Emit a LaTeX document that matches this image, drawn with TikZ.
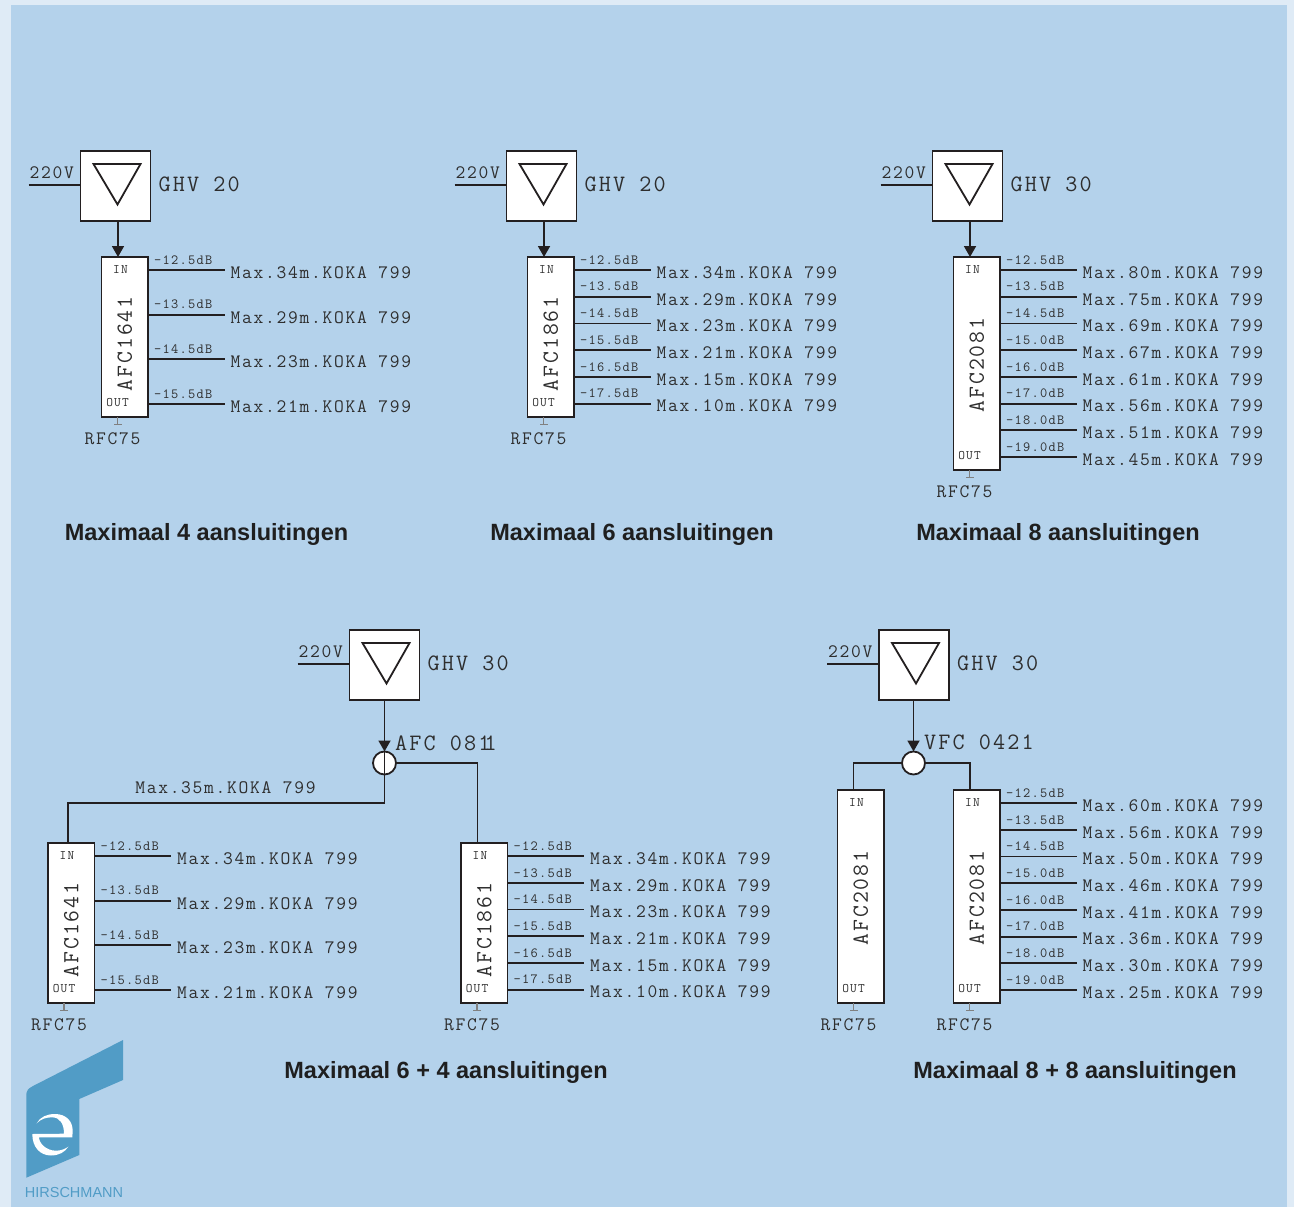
\documentclass[tikz,border=0pt]{standalone}
\usepackage{fontspec}
\setmonofont[LetterSpace=9]{Latin Modern Mono}
\newfontfamily\titlefont{Liberation Sans}
\usetikzlibrary{arrows.meta,positioning,calc}
\definecolor{pagepale}{HTML}{DFEBF6}
\definecolor{panelblue}{HTML}{B4D2EB}
\definecolor{logoblue}{HTML}{519CC6}
\definecolor{inkgrey}{HTML}{2E2E2E}
\definecolor{wireblack}{HTML}{231F20}
\tikzset{
  wire/.style={draw=wireblack,line width=1.8pt},
  feed/.style={wire,-{Triangle[width=12pt,length=11pt]}},
  stub/.style={draw=gray,line width=1.2pt,-{Bar[width=8pt]}},
  ampbox/.style={draw=wireblack,line width=1.8pt,fill=white,minimum size=70pt,inner sep=0pt,outer sep=0pt},
  splitbox/.style={draw=wireblack,line width=1.8pt,fill=white,minimum width=46.5pt,inner sep=0pt,outer sep=0pt,anchor=north west},
  knot/.style={circle,draw=wireblack,line width=1.8pt,fill=white,minimum size=23pt,inner sep=0pt,outer sep=0pt},
  txt/.style={inner sep=0pt,text=inkgrey},
  maxlabel/.style={txt,font=\fontsize{19}{22}\selectfont\ttfamily},
  typelabel/.style={txt,font=\fontsize{23.5}{26}\selectfont\ttfamily},
  afclabel/.style={txt,font=\fontsize{23}{26}\selectfont\ttfamily},
  dblabel/.style={txt,font=\fontsize{14}{16}\selectfont\ttfamily},
  portlabel/.style={txt,font=\fontsize{13}{15}\selectfont\ttfamily},
  titlelabel/.style={inner sep=0pt,text=black!88,font=\fontsize{23.5}{27}\selectfont\titlefont\bfseries}
}
% amp: name, x, y of the centre, type
\newcommand{\ampblock}[4]{
  \node[ampbox] (#1) at (#2,#3) {};
  \draw[wire] ([shift={(-22,-22)}]#1.center) -- ([shift={(25,-22)}]#1.center) -- ([shift={(2,18.5)}]#1.center) -- cycle;
  \coordinate (#1in) at ([shift={(-52,-1)}]#1.west);
  \draw[wire] (#1in) -- (#1in -| #1.west);
  \node[maxlabel,anchor=west] (#1v) at ([shift={(-51,-13)}]#1.west) {220V};
  \node[typelabel,right=8pt of #1,yshift=2pt] (#1t) {GHV #4};
}
% splitter: name, x, y, height, type, text offset, tap spacing, taps
\newcommand{\splitter}[8]{
  \node[splitbox,minimum height=#4pt] (#1) at (#2,#3) {};
  \node[afclabel,rotate=90] (#1t) at ($(#1.center)+(0,#6)$) {#5};
  \node[portlabel] (#1i) at ($(#1.north west)+(19,13)$) {IN};
  \node[portlabel] (#1o) at ($(#1.south west)+(16,-14)$) {OUT};
  \coordinate (#1g) at ($(#1.south west)+(16,8)$);
  \draw[stub] (#1.south west -| #1g) -- (#1g);
  \node[maxlabel] (#1r) at ($(#1.south west)+(11,21.5)$) {RFC75};
  \foreach \db/\len [count=\n from 0] in {#8}{
    \coordinate (#1a\n) at ($(#1.north east)+(0,13+\n*#7)$);
    \coordinate (#1b\n) at ($(#1a\n)+(76.5,0)$);
    \draw[wire] (#1a\n) -- (#1b\n);
    \node[dblabel,anchor=west] (#1d\n) at ($(#1a\n)+(6,-10)$) {\db};
    \node[maxlabel,anchor=west] (#1m\n) at ($(#1b\n)+(6,2.5)$) {Max.{\len}m.KOKA 799};
  }
}
\begin{document}
\begin{tikzpicture}[x=1pt,y=-1pt]
  \useasboundingbox (0,0) rectangle (1294,1207);
  \fill[pagepale] (0,0) rectangle (1294,1207);
  \fill[panelblue] (11,5) rectangle (1287,1207);

  % top row
  \ampblock{ampa}{115.5}{186}{20}
  \ampblock{ampb}{541.5}{186}{20}
  \ampblock{ampc}{967.5}{186}{30}
  \splitter{spla}{101.5}{257}{160}{AFC1641}{7}{44.67}{-12.5dB/34,-13.5dB/29,-14.5dB/23,-15.5dB/21}
  \splitter{splb}{527.5}{257}{160}{AFC1861}{7}{26.72}{-12.5dB/34,-13.5dB/29,-14.5dB/23,-15.5dB/21,-16.5dB/15,-17.5dB/10}
  \splitter{splc}{953.5}{257}{213}{AFC2081}{1.5}{26.72}{-12.5dB/80,-13.5dB/75,-14.5dB/69,-15.0dB/67,-16.0dB/61,-17.0dB/56,-18.0dB/51,-19.0dB/45}
  \draw[feed] ([xshift=2.5pt]ampa.south) -- ([xshift=-6.75pt]spla.north);
  \draw[feed] ([xshift=2.5pt]ampb.south) -- ([xshift=-6.75pt]splb.north);
  \draw[feed] ([xshift=2.5pt]ampc.south) -- ([xshift=-6.75pt]splc.north);
  \node[titlelabel] (capa) at (206.5,534.5) {Maximaal 4 aansluitingen};
  \node[titlelabel] (capb) at (632,534.5) {Maximaal 6 aansluitingen};
  \node[titlelabel] (capc) at (1058,534.5) {Maximaal 8 aansluitingen};

  % bottom left
  \ampblock{ampd}{384.5}{665}{30}
  \node[knot] (knotd) at (384.5,763) {};
  \draw[feed] (ampd.south) -- (knotd.north);
  \node[typelabel,anchor=west] (knotdt) at (395,743) {AFC 081\kern-6pt 1};
  \splitter{spld}{48}{843}{160}{AFC1641}{7}{44.67}{-12.5dB/34,-13.5dB/29,-14.5dB/23,-15.5dB/21}
  \splitter{sple}{461}{843}{160}{AFC1861}{7}{26.72}{-12.5dB/34,-13.5dB/29,-14.5dB/23,-15.5dB/21,-16.5dB/15,-17.5dB/10}
  \coordinate (bendd) at (384.5,803);
  \coordinate (dropd) at ($(spld.north west)+(20,0)$);
  \coordinate (drope) at ($(sple.north west)+(16.5,0)$);
  \draw[wire] (knotd.north) -- (bendd) -| (dropd);
  \draw[wire] (knotd.east) -| (drope);
  \node[maxlabel] (runlabel) at (225.5,788) {Max.35m.KOKA 799};
  \node[titlelabel] (capd) at (446,1072.5) {Maximaal 6 + 4 aansluitingen};

  % bottom right
  \ampblock{ampe}{914}{665}{30}
  \node[knot] (knote) at (913.5,763) {};
  \draw[feed] (knote.north |- ampe.south) -- (knote.north);
  \node[typelabel,anchor=west] (knotet) at (924,742) {VFC 0421};
  \splitter{splf}{837.5}{790}{213}{AFC2081}{1.5}{0}{}
  \splitter{splg}{953.5}{790}{213}{AFC2081}{1.5}{26.72}{-12.5dB/60,-13.5dB/56,-14.5dB/50,-15.0dB/46,-16.0dB/41,-17.0dB/36,-18.0dB/30,-19.0dB/25}
  \coordinate (dropf) at ($(splf.north west)+(16,0)$);
  \coordinate (dropg) at ($(splg.north west)+(16.5,0)$);
  \draw[wire] (knote.west) -| (dropf);
  \draw[wire] (knote.east) -| (dropg);
  \node[titlelabel] (cape) at (1075,1072.5) {Maximaal 8 + 8 aansluitingen};

  % logo
  \fill[logoblue] (26.3,1177.7) -- (26.3,1095) .. controls (26.3,1091) and (28,1088.5) .. (33,1086) -- (123,1040) -- (123,1080) -- (79.3,1099) -- (79.3,1155) -- cycle;
  \fill[white] (36.7,1123.3) .. controls (40,1117) and (47,1114) .. (55,1114) .. controls (66,1114) and (72.7,1121) .. (72.7,1131) -- (72.3,1137.3) -- (39,1137.3)
    .. controls (39,1143) and (46,1150.7) .. (56,1150.7) .. controls (61,1150.7) and (65,1149) .. (68.3,1146.7) .. controls (65,1152) and (59,1155.5) .. (51,1155.5)
    .. controls (40,1155.5) and (32.3,1147) .. (32.3,1134) -- (64,1133.7) .. controls (64,1124) and (60,1117.3) .. (52,1117.3) .. controls (46,1117.3) and (41,1119) .. (36.7,1123.3) -- cycle;
  \node[inner sep=0pt,text=logoblue,font=\fontsize{14.5}{16}\selectfont\titlefont] (logotext) at (74,1192) {HIRSCHMANN};
\end{tikzpicture}
\end{document}
